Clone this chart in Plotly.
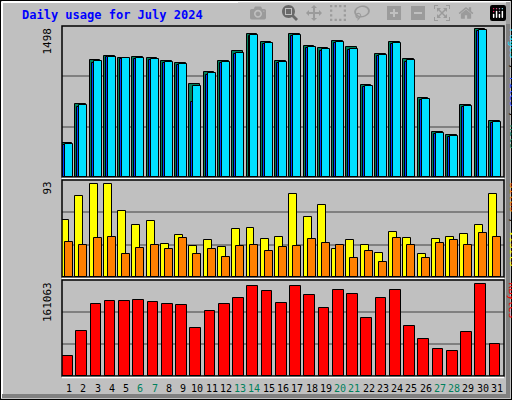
import plotly.graph_objects as go

days = list(range(1, 32))

# values
hits = [337, 724, 1161, 1200, 1181, 1190, 1181, 1151, 1131, 923, 1042, 1151, 1250, 1419, 1339, 1151,
        1419, 1300, 1280, 1349, 1290, 913, 1220, 1339, 1171, 784, 446, 417, 714, 1468, 555]
files = [317, 694, 1131, 1190, 1171, 1171, 1161, 1131, 1111, 744, 1012, 1131, 1220, 1399, 1320, 1131,
         1399, 1280, 1250, 1329, 1260, 893, 1200, 1320, 1141, 764, 426, 397, 694, 1448, 536]
pages = [327, 714, 1151, 1190, 1181, 1181, 1171, 1141, 1121, 903, 1032, 1141, 1230, 1409, 1329, 1141,
         1409, 1290, 1270, 1339, 1270, 903, 1210, 1329, 1161, 774, 436, 407, 704, 1458, 545]
visits = [55, 78, 89, 89, 63, 50, 54, 32, 40, 30, 35, 29, 46, 47, 36, 38,
          80, 58, 69, 27, 35, 31, 23, 43, 37, 22, 36, 38, 41, 50, 80]
sites = [34, 31, 37, 38, 22, 28, 31, 27, 37, 22, 27, 19, 30, 31, 25, 29,
         30, 36, 33, 31, 18, 25, 14, 37, 31, 18, 33, 35, 31, 42, 38]
kbytes = [33554, 75492, 120791, 125824, 125824, 127502, 124147, 120791, 119113, 80525, 109045,
          120791, 130857, 150990, 142602, 122469, 150990, 135890, 114080, 144279, 137568, 97302,
          130857, 144279, 83880, 62071, 45295, 41939, 73814, 154345, 53687]
max_top, max_mid, max_bot = 1498, 93, 161063
weekend = [6, 7, 13, 14, 20, 21, 27, 28]

W, H = 512, 400
x0, x1 = 62 / W, 504 / W
dom_top = [1 - 177 / H, 1 - 26 / H]
dom_mid = [1 - 277 / H, 1 - 180 / H]
dom_bot = [1 - 376 / H, 1 - 280 / H]

fig = go.Figure()
ln = dict(color="black", width=1)


def bar(y, color, off, wid, xa, ya):
    fig.add_trace(go.Bar(x=days, y=y, offset=off, width=wid, marker=dict(color=color, line=ln),
                         xaxis=xa, yaxis=ya, showlegend=False))


bar(hits, "#00805C", -0.56, 0.75, "x", "y")
bar(files, "#0040FF", -0.42, 0.7, "x", "y")
bar(pages, "#00E0FF", -0.28, 0.56, "x", "y")
bar(visits, "#FFFF00", -0.56, 0.56, "x2", "y2")
bar(sites, "#FF8000", -0.28, 0.56, "x2", "y2")
bar(kbytes, "#FF0000", -0.5, 0.75, "x3", "y3")

xax = dict(range=[0.5, 31.5], domain=[x0, x1], showticklabels=False, showgrid=False,
           zeroline=False, fixedrange=True)
fig.update_layout(
    width=W, height=H, margin=dict(l=0, r=0, t=0, b=0),
    paper_bgcolor="#C0C0C0", plot_bgcolor="#C0C0C0", barmode="overlay", bargap=0,
    xaxis=dict(xax, anchor="y"), xaxis2=dict(xax, anchor="y2"), xaxis3=dict(xax, anchor="y3"),
)
for name, dom, mx in [("yaxis", dom_top, max_top), ("yaxis2", dom_mid, max_mid), ("yaxis3", dom_bot, max_bot)]:
    fig.layout[name] = dict(domain=dom, range=[0, mx], tickvals=[mx / 3, 2 * mx / 3], showticklabels=False,
                            gridcolor="#808080", gridwidth=1.5, zeroline=False,
                            anchor="x" + name[5:] if name != "yaxis" else "x")

shapes = [
    dict(type="rect", xref="paper", yref="paper", x0=0, x1=1, y0=0, y1=1, line=dict(color="black", width=2)),
    dict(type="line", xref="paper", yref="paper", x0=2 / W, x1=510 / W, y0=1 - 2 / H, y1=1 - 2 / H, line=dict(color="white", width=2)),
    dict(type="line", xref="paper", yref="paper", x0=2 / W, x1=2 / W, y0=2 / H, y1=1 - 2 / H, line=dict(color="white", width=2)),
    dict(type="line", xref="paper", yref="paper", x0=2 / W, x1=510 / W, y0=4 / H, y1=4 / H, line=dict(color="#808080", width=4)),
    dict(type="line", xref="paper", yref="paper", x0=508 / W, x1=508 / W, y0=4 / H, y1=1 - 2 / H, line=dict(color="#808080", width=4)),
]
for dom in (dom_top, dom_mid, dom_bot):
    shapes.append(dict(type="rect", xref="paper", yref="paper", x0=x0, x1=x1, y0=dom[0], y1=dom[1],
                       line=dict(color="black", width=1.5)))
    shapes.append(dict(type="line", xref="paper", yref="paper", x0=x0, x1=x1, y0=dom[0] - 1.5 / H, y1=dom[0] - 1.5 / H,
                       line=dict(color="white", width=1.5)))
fig.update_layout(shapes=shapes)

font = "DejaVu Sans Mono"
ann = [dict(text="<b>Daily usage for July 2024</b>", x=20 / W, y=1 - 15 / H, xref="paper", yref="paper",
            xanchor="left", yanchor="middle", showarrow=False, font=dict(family=font, size=12, color="#0000FF"))]
for txt, dom in [("1498", dom_top), ("93", dom_mid), ("161063", dom_bot)]:
    ann.append(dict(text=txt, x=47 / W, y=dom[1], xref="paper", yref="paper", textangle=-90,
                    xanchor="center", yanchor="top", showarrow=False, font=dict(family=font, size=11, color="black")))
right = [
    ("<span style='color:#00E0FF'>Pages</span> / <span style='color:#0040FF'>Files</span> / "
     "<span style='color:#00805C'>Hits</span>", dom_top),
    ("<span style='color:#FF8000'>Sites</span> / <span style='color:#FFFF00'>Visits</span>", dom_mid),
    ("<span style='color:#FF0000'>KBytes</span>", dom_bot),
]
for txt, dom in right:
    ann.append(dict(text=txt, x=505 / W, y=dom[1], xref="paper", yref="paper", textangle=90,
                    xanchor="left", yanchor="top", showarrow=False, font=dict(family=font, size=10, color="black")))
for d in days:
    ann.append(dict(text=str(d), x=d, y=1 - 388 / H, xref="x3", yref="paper", showarrow=False,
                    xanchor="center", yanchor="middle",
                    font=dict(family=font, size=10, color="#00805C" if d in weekend else "black")))
fig.update_layout(annotations=ann)

fig.write_html("out.html", post_script="document.body.style.margin='0';document.body.style.overflow='hidden';")
